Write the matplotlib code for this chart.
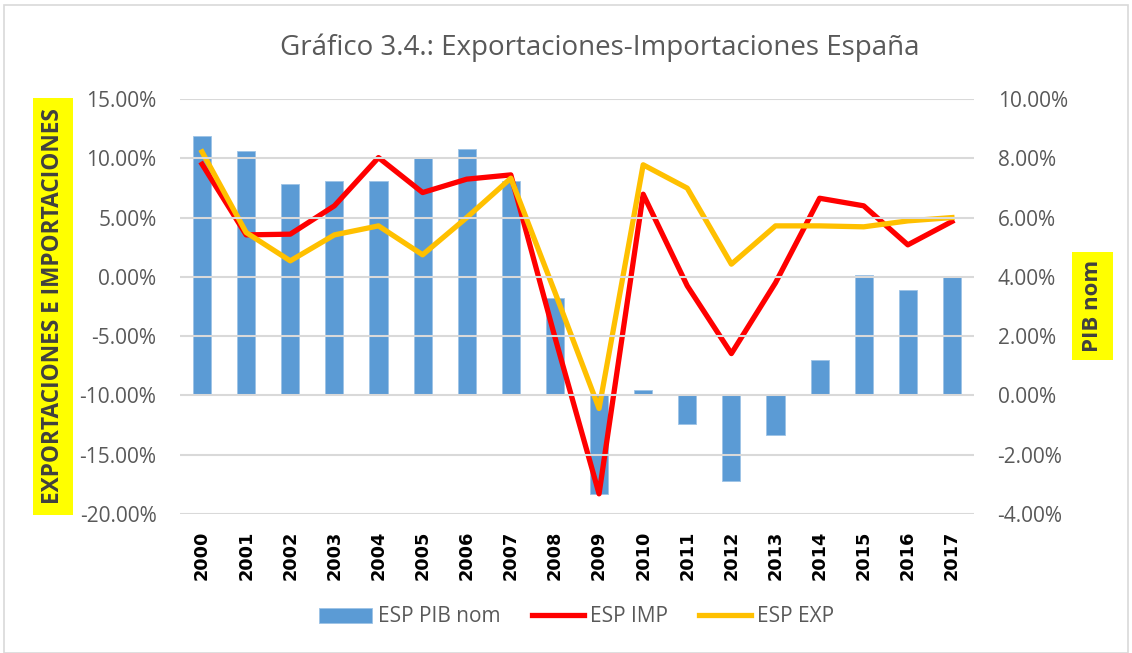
import matplotlib.pyplot as plt
import numpy as np
from matplotlib.ticker import FuncFormatter

years = ['2000', '2001', '2002', '2003', '2004', '2005', '2006', '2007', '2008',
         '2009', '2010', '2011', '2012', '2013', '2014', '2015', '2016', '2017']
pib_nom = [8.75, 8.26, 7.12, 7.24, 7.22, 8.04, 8.32, 7.24, 3.27,
           -3.34, 0.17, -0.97, -2.87, -1.35, 1.19, 4.05, 3.56, 4.03]
esp_imp = [9.5, 3.54, 3.6, 5.99, 10.06, 7.11, 8.24, 8.6, -5.1,
           -18.3, 6.97, -0.76, -6.47, -0.5, 6.63, 5.99, 2.7, 4.67]
esp_exp = [10.54, 3.74, 1.35, 3.54, 4.3, 1.86, 5.0, 8.32, -1.3,
           -11.1, 9.45, 7.48, 1.07, 4.3, 4.3, 4.22, 4.72, 5.0]

plt.rcParams['font.family'] = ['Open Sans', 'DejaVu Sans']
grey = '#595959'

fig = plt.figure(figsize=(11.32, 6.53), dpi=100)
ax = fig.add_axes([180/1132, 1-514/653, 794/1132, 415/653])
ax2 = ax.twinx()
ax.set_zorder(ax2.get_zorder() + 1)
ax.patch.set_visible(False)

x = np.arange(len(years))
ax2.bar(x, pib_nom, width=0.41, color='#5B9BD5', edgecolor='#9DC3E6', linewidth=0.6,
        label='ESP PIB nom')
ax.plot(x, esp_imp, color='#FF0000', lw=3.8, label='ESP IMP', solid_joinstyle='round')
ax.plot(x, esp_exp, color='#FFC000', lw=3.8, label='ESP EXP', solid_joinstyle='round')

ax.set_ylim(-20, 15)
ax.set_yticks(np.arange(-20, 16, 5))
ax2.set_ylim(-4, 10)
ax2.set_yticks(np.arange(-4, 11, 2))
ax.yaxis.set_major_formatter(FuncFormatter(lambda v, p: '%.2f%%' % v))
ax2.yaxis.set_major_formatter(FuncFormatter(lambda v, p: '%.2f%%' % v))
ax.set_xlim(-0.5, len(years) - 0.5)
ax.set_xticks(x)
ax.set_xticklabels(years, rotation=90, fontweight='bold', fontsize=12.8,
                   family='DejaVu Sans', color='black')
ax.grid(axis='y', color='#D9D9D9', lw=1.5)
ax.set_axisbelow(False)

for a in (ax, ax2):
    for s in a.spines.values():
        s.set_visible(False)
    a.tick_params(length=0)
ax.tick_params(axis='y', labelsize=15, labelcolor=grey, pad=17)
ax2.tick_params(axis='y', labelsize=15, labelcolor=grey, pad=17)
ax.tick_params(axis='x', pad=12)

fig.text(600/1132, 1-48/653, 'Gráfico 3.4.: Exportaciones-Importaciones España',
         ha='center', va='center', fontsize=20, color=grey)

# yellow boxes behind the axis titles
fig.patches.append(plt.Rectangle((33/1132, 1-515/653), 40/1132, 417/653,
                                 transform=fig.transFigure, fc='#FFFF00', ec='none'))
fig.patches.append(plt.Rectangle((1072/1132, 1-360/653), 41/1132, 108/653,
                                 transform=fig.transFigure, fc='#FFFF00', ec='none'))
fig.text(53/1132, 1-306.5/653, 'EXPORTACIONES E IMPORTACIONES', rotation=90,
         ha='center', va='center', fontsize=16.3, fontweight='bold', color='#404040')
fig.text(1092.5/1132, 1-306/653, 'PIB nom', rotation=90,
         ha='center', va='center', fontsize=16, fontweight='bold', color='#404040')

h1, l1 = ax2.get_legend_handles_labels()
h2, l2 = ax.get_legend_handles_labels()
fig.legend(h1 + h2, l1 + l2, loc='center', bbox_to_anchor=(577/1132, 1-617/653), ncol=3,
           frameon=False, fontsize=15, labelcolor=grey, handlelength=2.5,
           columnspacing=1.5, handletextpad=0.3)

fig.patches.append(plt.Rectangle((4/1132, 0.0), 1-8/1132, 1-5/653, transform=fig.transFigure,
                                 fill=False, ec='#D9D9D9', lw=1.2))

fig.savefig('out.png', dpi=100)
